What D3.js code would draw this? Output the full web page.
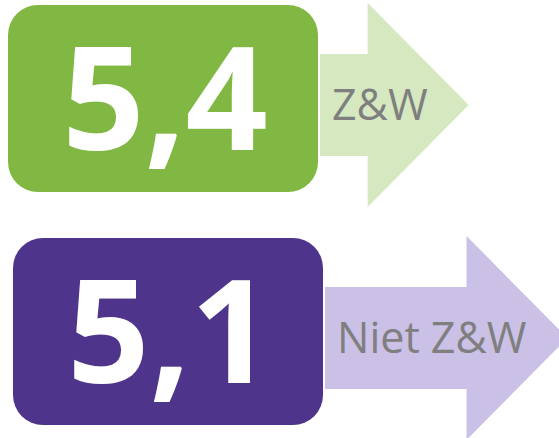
<!DOCTYPE html>
<html>
<head>
<meta charset="utf-8">
<script src="https://cdn.jsdelivr.net/npm/d3@7/dist/d3.min.js"></script>
<style>
  html, body { margin: 0; padding: 0; background: #fff; }
  svg { display: block; }
</style>
</head>
<body>
<div id="chart"></div>
<script>
// values shown in the tiles and the arrow labels
const groups = ['Z&W', 'Niet Z&W'];
const values = [5.4, 5.1];
const tileColors = ['#80b843', '#4e358b'];
const arrowColors = ['#d5e8c0', '#cbc0e6'];

const width = 559;
const height = 438;

const locale = d3.formatLocale({ decimal: ',', thousands: '.', grouping: [3], currency: ['€', ''] });
const fmt = locale.format('.1f');

const svg = d3.select('#chart')
  .append('svg')
  .attr('width', width)
  .attr('height', height)
  .attr('viewBox', `0 0 ${width} ${height}`);

// one band per row: tiles 187px tall, rows 233px apart
const y = d3.scaleBand()
  .domain(groups)
  .range([5, 425])
  .paddingInner(46 / 233)
  .paddingOuter(0);

// second tile sits a few px further right
const xShift = d3.scaleLinear().domain([0, 1]).range([8, 13]);

const tileW = 310;
const tileH = y.bandwidth();
const shaftHalf = 51;
const headHalf = 102;
const headLen = 101;

const rows = svg.selectAll('g.row')
  .data(groups.map((g, i) => ({ group: g, value: values[i], i })))
  .join('g')
  .attr('class', 'row');

rows.each(function (d) {
  const g = d3.select(this);
  const x0 = xShift(d.i);
  const top = y(d.group);
  const cy = top + tileH / 2 + 6.5;
  const shaftX = x0 + tileW + 2;

  const arrow = g.append('path').attr('fill', arrowColors[d.i]);

  const label = g.append('text')
    .attr('x', shaftX + 12)
    .attr('y', cy + 15)
    .attr('font-family', "'Open Sans', 'Noto Sans', sans-serif")
    .attr('font-size', 43)
    .attr('fill', '#7f7f7f')
    .text(d.group);

  const tip = shaftX + 12 + label.node().getComputedTextLength() + 41;
  const neck = tip - headLen;
  const p = d3.path();
  p.moveTo(shaftX, cy - shaftHalf);
  p.lineTo(neck, cy - shaftHalf);
  p.lineTo(neck, cy - headHalf);
  p.lineTo(tip, cy);
  p.lineTo(neck, cy + headHalf);
  p.lineTo(neck, cy + shaftHalf);
  p.lineTo(shaftX, cy + shaftHalf);
  p.closePath();
  arrow.attr('d', p.toString());

  g.append('rect')
    .attr('x', x0)
    .attr('y', top)
    .attr('width', tileW)
    .attr('height', tileH)
    .attr('rx', 30)
    .attr('fill', tileColors[d.i]);

  g.append('text')
    .attr('x', x0 + tileW / 2 + 2)
    .attr('y', top + 145)
    .attr('text-anchor', 'middle')
    .attr('font-family', "'Open Sans', 'Noto Sans', sans-serif")
    .attr('font-weight', 700)
    .attr('font-size', 144)
    .attr('fill', '#ffffff')
    .text(fmt(d.value));
});
</script>
</body>
</html>
